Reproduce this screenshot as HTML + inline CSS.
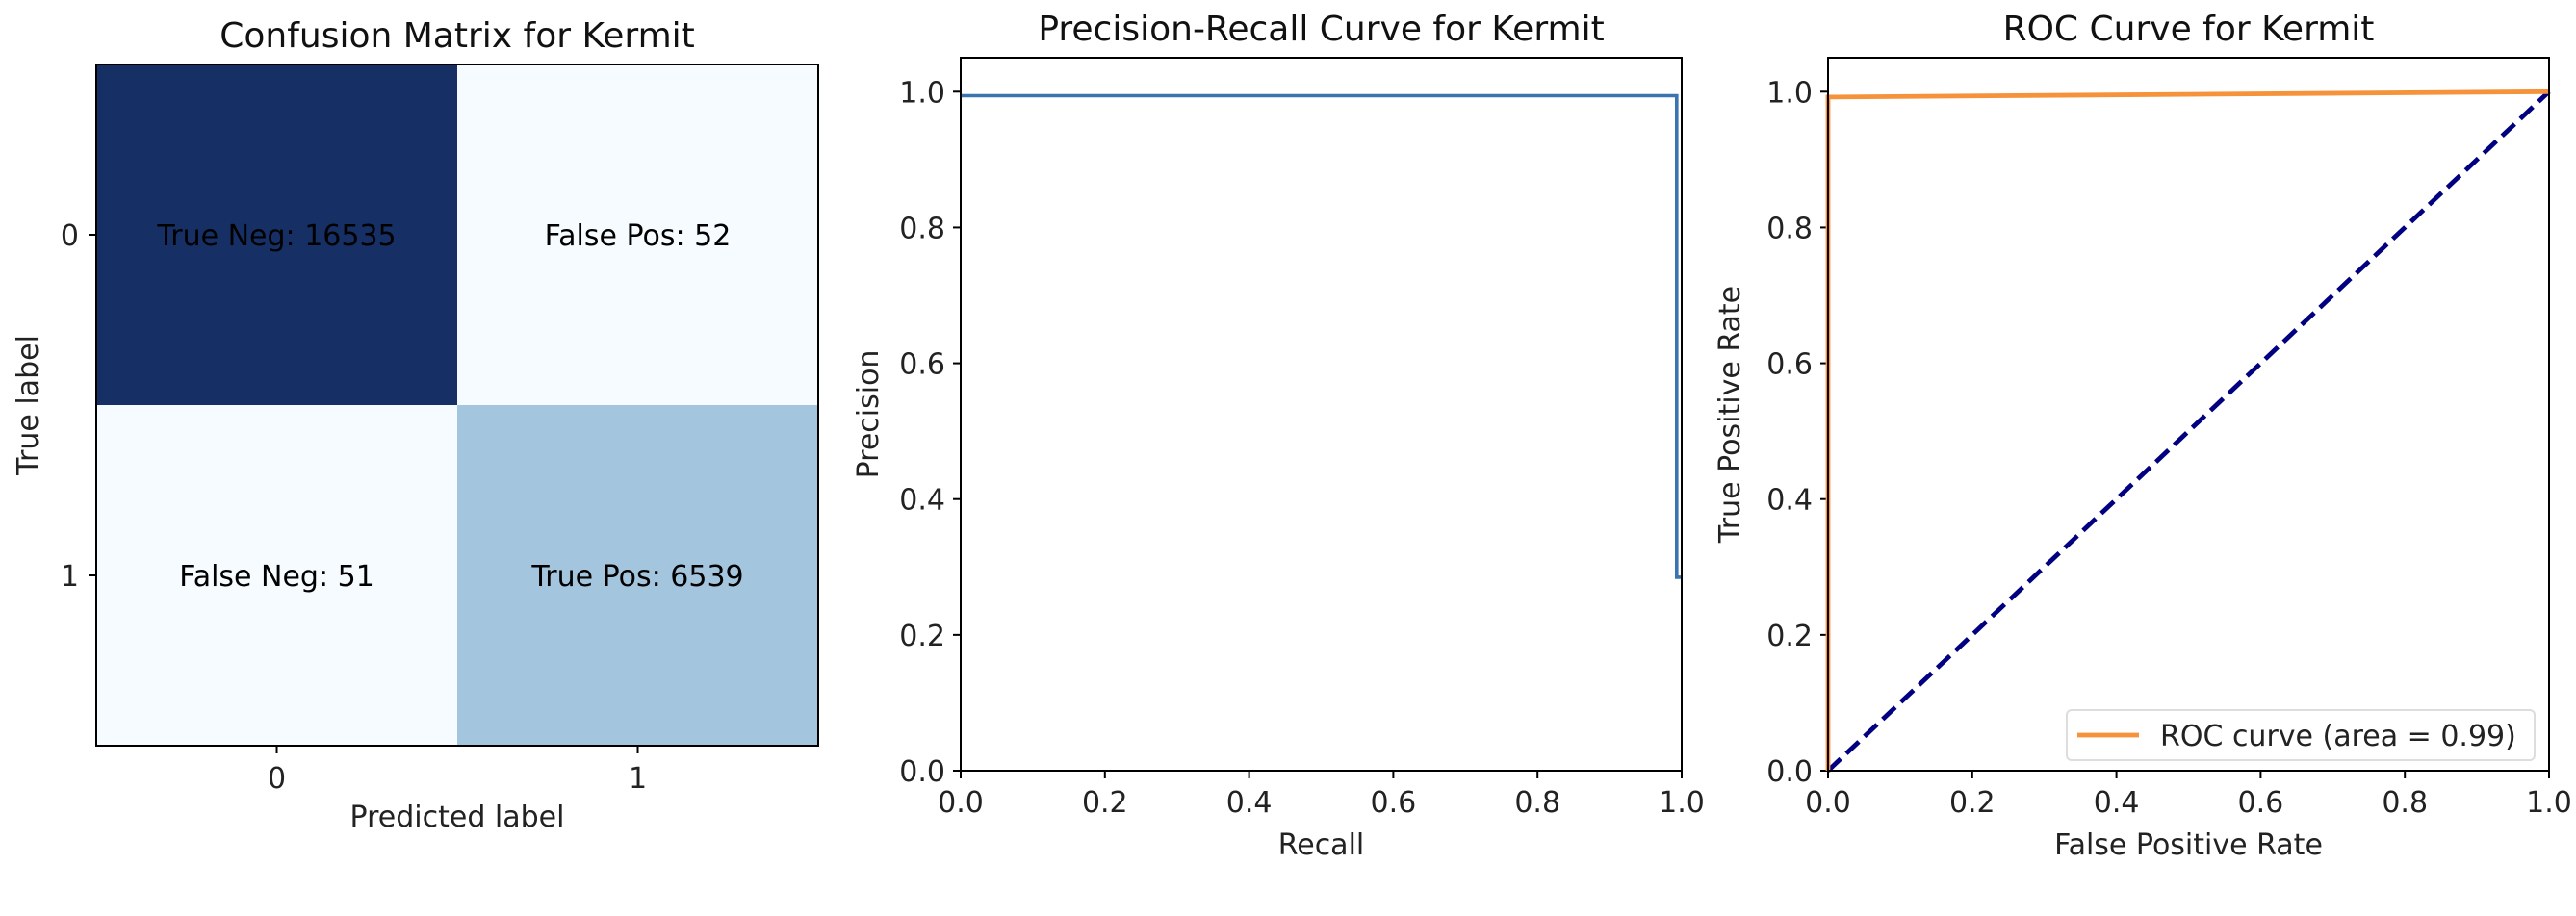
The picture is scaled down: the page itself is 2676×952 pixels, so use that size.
<!DOCTYPE html>
<html><head><meta charset="utf-8"><style>
html,body{margin:0;padding:0;background:#fff;}
svg{display:block;font-family:"DejaVu Sans","Liberation Sans",sans-serif;}
</style></head><body>
<svg id="fig" width="2676" height="952" viewBox="0 0 2676 952" xmlns="http://www.w3.org/2000/svg"></svg>
<script>
// Confusion matrix data
const cmLabels = ["0","1"];
const cmValues = [[16535,52],[51,6539]];
const cmNames = [["True Neg","False Pos"],["False Neg","True Pos"]];
// PR curve data
const prRecall = [0, 0.993, 0.993, 1.0];
const prPrecision = [0.994, 0.994, 0.285, 0.285];
// ROC data
const rocFpr = [0, 0, 1];
const rocTpr = [0, 0.992, 1];
const diagX = [0, 1];
const diagY = [0, 1];
const rocArea = "0.99";
const ticks = [0, 0.2, 0.4, 0.6, 0.8, 1.0];
const tickLabels = ["0.0","0.2","0.4","0.6","0.8","1.0"];

const NS = "http://www.w3.org/2000/svg";
const fig = document.getElementById('fig');
const FS = 30, TFS = 36;
function el(tag, attrs, parent, text){
  const e = document.createElementNS(NS, tag);
  for (const k in attrs) e.setAttribute(k, attrs[k]);
  if (text !== undefined) e.textContent = text;
  (parent||fig).appendChild(e);
  return e;
}

// ---------- Confusion matrix ----------
const cm = {l:100, r:850, t:67, b:775};
const cmG = el('g', {});


const maxV = Math.max(...cmValues.flat());
function blues(v){
  const t = v / maxV;
  const stops = [[0,[247,251,255]],[0.4,[163,196,222]],[1,[22,48,101]]];
  for (let i=1;i<stops.length;i++){
    if (t <= stops[i][0]){
      const a=stops[i-1], b=stops[i], f=(t-a[0])/(b[0]-a[0]);
      const c=a[1].map((x,j)=>Math.round(x+(b[1][j]-x)*f));
      return `rgb(${c[0]},${c[1]},${c[2]})`;
    }
  }
  return 'rgb(22,48,101)';
}
const cw = (cm.r-cm.l)/cmLabels.length, ch = (cm.b-cm.t)/cmLabels.length;
for (let i=0;i<cmLabels.length;i++){
  for (let j=0;j<cmLabels.length;j++){
    const v = cmValues[i][j];
    const rect = el('rect', {x:cm.l+j*cw, y:cm.t+i*ch, width:cw, height:ch, fill:blues(v)}, cmG);
    
    
    const tx = el('text', {x:cm.l+(j+0.5)*cw, y:cm.t+(i+0.5)*ch+11, 'font-size':FS, 'text-anchor':'middle', fill:'#000'}, cmG, cmNames[i][j] + ': ' + v);
    
    
  }
}
el('rect', {x:cm.l, y:cm.t, width:cm.r-cm.l, height:cm.b-cm.t, fill:'none', stroke:'#000', 'stroke-width':2}, cmG);
for (let k=0;k<cmLabels.length;k++){
  const x = cm.l+(k+0.5)*cw, y = cm.t+(k+0.5)*ch;
  el('line', {x1:x, x2:x, y1:cm.b, y2:cm.b+8, stroke:'#000', 'stroke-width':2}, cmG);
  const xt = el('text', {x:x, y:cm.b+44, 'font-size':FS, 'text-anchor':'middle', fill:'#222'}, cmG, cmLabels[k]);
  
  
  el('line', {x1:cm.l-8, x2:cm.l, y1:y, y2:y, stroke:'#000', 'stroke-width':2}, cmG);
  const yt = el('text', {x:cm.l-18, y:y+11, 'font-size':FS, 'text-anchor':'end', fill:'#222'}, cmG, cmLabels[k]);
  
  
}
const cmT = el('text', {x:(cm.l+cm.r)/2, y:49, 'font-size':TFS, 'text-anchor':'middle', fill:'#111'}, cmG, 'Confusion Matrix for Kermit');


const cmX = el('text', {x:(cm.l+cm.r)/2, y:859, 'font-size':FS, 'text-anchor':'middle', fill:'#222'}, cmG, 'Predicted label');


const cmY = el('text', {x:0, y:0, 'font-size':FS, 'text-anchor':'middle', fill:'#222', transform:`translate(39,${(cm.t+cm.b)/2}) rotate(-90)`}, cmG, 'True label');



// ---------- generic line axes ----------
function axes(box, title, xlab, ylab, name, yoff){
  const g = el('g', {});
  
  
  const sx = v => box.l + (v-0)/(1-0)*(box.r-box.l);
  const sy = v => box.b - (v-0)/(1.05-0)*(box.b-box.t);
  for (let k=0;k<ticks.length;k++){
    const x = sx(ticks[k]), y = sy(ticks[k]);
    el('line', {x1:x, x2:x, y1:box.b, y2:box.b+8, stroke:'#000', 'stroke-width':2}, g);
    const xt = el('text', {x:x, y:box.b+43, 'font-size':FS, 'text-anchor':'middle', fill:'#222'}, g, tickLabels[k]);
    
    
    el('line', {x1:box.l-8, x2:box.l, y1:y, y2:y, stroke:'#000', 'stroke-width':2}, g);
    const yt = el('text', {x:box.l-16, y:y+11, 'font-size':FS, 'text-anchor':'end', fill:'#222'}, g, tickLabels[k]);
    
    
  }
  const t = el('text', {x:(box.l+box.r)/2, y:42, 'font-size':TFS, 'text-anchor':'middle', fill:'#111'}, g, title);
  
  
  const xl = el('text', {x:(box.l+box.r)/2, y:888, 'font-size':FS, 'text-anchor':'middle', fill:'#222'}, g, xlab);
  
  
  const yl = el('text', {x:0, y:0, 'font-size':FS, 'text-anchor':'middle', fill:'#222', transform:`translate(${box.l-yoff},${(box.t+box.b)/2}) rotate(-90)`}, g, ylab);
  
  
  return {g, sx, sy};
}
function frame(box, g){
  el('rect', {x:box.l, y:box.t, width:box.r-box.l, height:box.b-box.t, fill:'none', stroke:'#000', 'stroke-width':2}, g);
}
function pts(xs, ys, sx, sy){ return xs.map((x,i)=>sx(x).toFixed(1)+','+sy(ys[i]).toFixed(1)).join(' '); }

// ---------- PR ----------
const pr = {l:998, r:1747, t:60, b:801};
const P = axes(pr, 'Precision-Recall Curve for Kermit', 'Recall', 'Precision', 'pr-chart', 86);
const prLine = el('polyline', {points:pts(prRecall, prPrecision, P.sx, P.sy), fill:'none', stroke:'#3a75b0', 'stroke-width':3.6}, P.g);


frame(pr, P.g);

// ---------- ROC ----------
const roc = {l:1899, r:2648, t:60, b:801};
const R = axes(roc, 'ROC Curve for Kermit', 'False Positive Rate', 'True Positive Rate', 'roc-chart', 92);
const diag = el('polyline', {points:pts(diagX, diagY, R.sx, R.sy), fill:'none', stroke:'#000080', 'stroke-width':4.8, 'stroke-dasharray':'18 8'}, R.g);


const rocLine = el('polyline', {points:pts(rocFpr, rocTpr, R.sx, R.sy), fill:'none', stroke:'#f5923a', 'stroke-width':4.8}, R.g);


frame(roc, R.g);
const leg = el('g', {}, R.g);


el('rect', {x:2147, y:738, width:486, height:52, rx:5, fill:'#fff', 'fill-opacity':0.8, stroke:'#ddd', 'stroke-width':2}, leg);
el('line', {x1:2158, x2:2222, y1:764, y2:764, stroke:'#f5923a', 'stroke-width':4.8}, leg);
const lt = el('text', {x:2244, y:775, 'font-size':FS, fill:'#222'}, leg, 'ROC curve (area = ' + rocArea + ')');


</script>
</body></html>
